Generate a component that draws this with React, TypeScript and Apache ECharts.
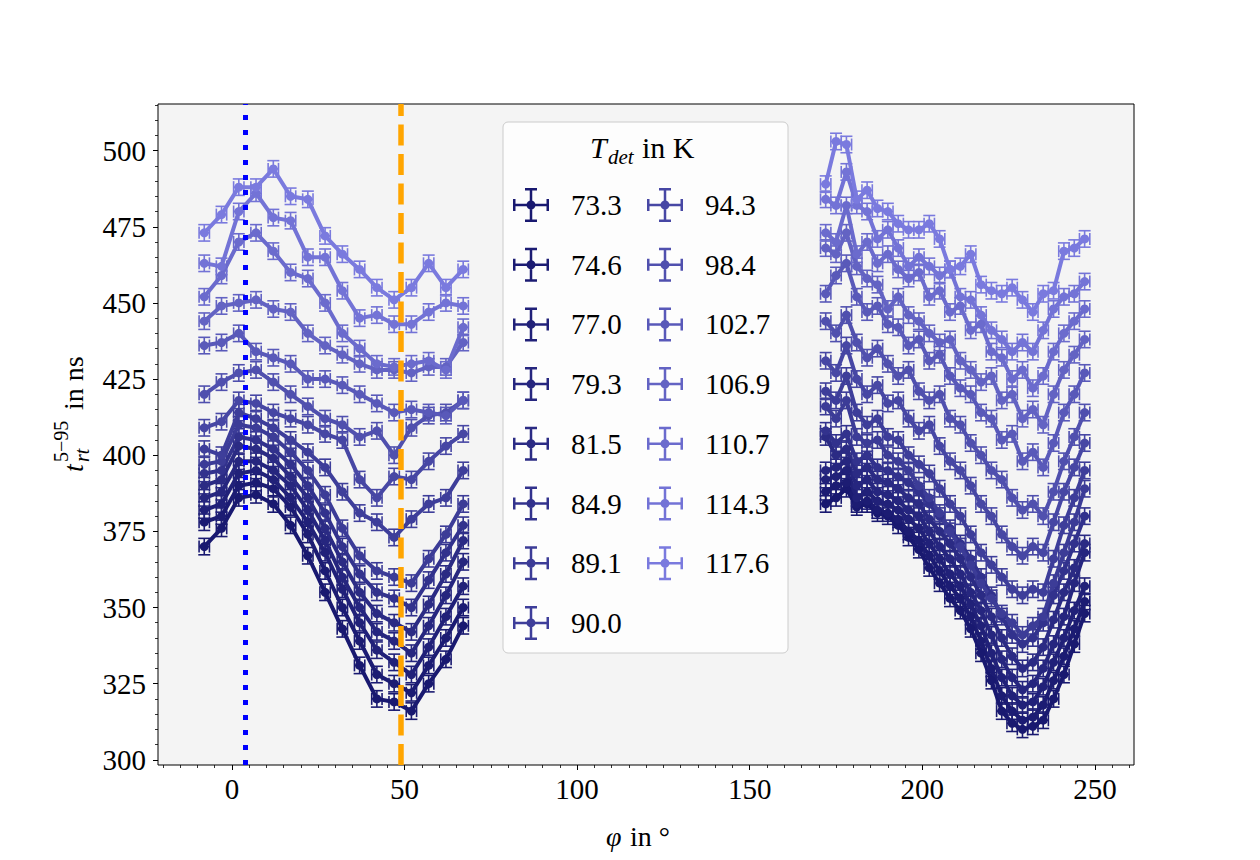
import React, { useEffect, useRef } from "react";
import * as echarts from "echarts";

const SERIF = "'Liberation Serif', 'Times New Roman', 'DejaVu Serif', serif";

// temperatures (legend) and colours
const TEMPS = ["73.3", "74.6", "77.0", "79.3", "81.5", "84.9", "89.1", "90.0", "94.3", "98.4", "102.7", "106.9", "110.7", "114.3", "117.6"];
const COLORS = ["#191970", "#1c1c73", "#212179", "#26267f", "#2b2b84", "#32328d", "#3c3c97", "#3e3e9a", "#4747a4", "#5050ae", "#5959b9", "#6363c3", "#6b6bcd", "#7373d6", "#7a7ade"];

// angles (degrees)
const PHI_LEFT = [-8, -3, 2, 7, 12, 17, 22, 27, 32, 37, 42, 47, 52, 57, 62, 67];
const PHI_RIGHT = [172, 175, 178, 181, 184, 187, 190, 193, 196, 199, 202, 205, 208, 211, 214, 217, 220, 223, 226, 229, 232, 235, 238, 241, 244, 247];

// rise times (ns), left segment
const L_73_3 = [370, 376, 386, 387, 384, 377, 367, 355, 343, 331, 320, 319, 316, 325, 333, 344];
const L_74_6 = [378, 380, 390, 391, 389, 383, 374, 362, 350, 339, 328, 325, 322, 331, 340, 350];
const L_77_0 = [382, 384, 394, 395, 392, 386, 378, 368, 356, 345, 336, 332, 328, 337, 347, 357];
const L_79_3 = [386, 388, 398, 398, 395, 390, 382, 372, 360, 350, 342, 339, 335, 344, 354, 365];
const L_81_5 = [390, 392, 403, 402, 399, 393, 386, 376, 365, 355, 348, 345, 342, 351, 361, 372];
const L_84_9 = [394, 395, 406, 405, 402, 397, 390, 381, 370, 361, 355, 353, 350, 359, 368, 377];
const L_89_1 = [397, 398, 410, 409, 406, 401, 395, 387, 376, 367, 362, 360, 358, 366, 374, 384];
const L_90_0 = [402, 400, 414, 412, 409, 405, 401, 396, 388, 381, 378, 373, 379, 384, 386, 395];
const L_94_3 = [409, 411, 418, 417, 414, 412, 410, 407, 405, 392, 386, 393, 392, 398, 403, 407];
const L_98_4 = [420, 424, 427, 428, 424, 420, 416, 412, 410, 406, 408, 400, 409, 413, 414, 418];
const L_102_7 = [436, 437, 440, 434, 432, 430, 425, 425, 423, 420, 417, 414, 415, 414, 413, 418];
const L_106_9 = [444, 449, 450, 451, 448, 447, 440, 436, 433, 430, 428, 428, 427, 429, 429, 437];
const L_110_7 = [452, 459, 470, 473, 467, 460, 458, 450, 440, 435, 430, 429, 430, 431, 428, 442];
const L_114_3 = [463, 462, 480, 486, 478, 477, 465, 465, 454, 445, 446, 443, 443, 447, 450, 449];
const L_117_6 = [473, 479, 488, 488, 494, 485, 484, 472, 466, 461, 455, 451, 455, 463, 455, 461];

// rise times (ns), right segment
const R_73_3 = [384, 386, 389, 383, 384, 381, 380, 377, 373, 369, 363, 358, 353, 349, 343, 335, 326, 316, 312, 310, 311, 313, 320, 328, 338, 348];
const R_74_6 = [388, 390, 391, 384, 385, 382, 381, 379, 375, 372, 367, 362, 357, 353, 347, 339, 330, 321, 316, 313, 314, 318, 326, 334, 343, 352];
const R_77_0 = [392, 393, 395, 386, 388, 385, 384, 382, 379, 376, 371, 366, 361, 357, 351, 344, 335, 327, 321, 318, 319, 324, 332, 340, 349, 357];
const R_79_3 = [395, 396, 398, 390, 392, 388, 387, 385, 382, 380, 375, 370, 366, 361, 355, 349, 341, 333, 327, 323, 325, 330, 338, 347, 358, 368];
const R_81_5 = [406, 400, 402, 394, 396, 392, 391, 389, 386, 384, 379, 375, 371, 366, 360, 354, 347, 340, 334, 330, 332, 337, 346, 355, 363, 371];
const R_84_9 = [408, 404, 407, 398, 400, 396, 395, 393, 391, 388, 384, 380, 376, 371, 366, 360, 354, 347, 341, 338, 340, 345, 354, 362, 371, 380];
const R_89_1 = [416, 412, 418, 406, 404, 405, 400, 398, 395, 390, 386, 381, 375, 370, 364, 358, 353, 348, 345, 341, 344, 347, 358, 368, 378, 389];
const R_90_0 = [421, 418, 426, 414, 410, 412, 406, 405, 400, 397, 394, 389, 384, 380, 374, 368, 364, 360, 356, 354, 356, 355, 366, 377, 386, 395];
const R_94_3 = [431, 427, 436, 425, 420, 423, 417, 418, 412, 408, 410, 403, 398, 395, 390, 384, 380, 374, 370, 367, 370, 368, 378, 388, 396, 404];
const R_98_4 = [444, 440, 446, 437, 432, 435, 430, 426, 428, 421, 418, 420, 412, 410, 404, 400, 395, 392, 386, 382, 384, 380, 388, 398, 406, 414];
const R_102_7 = [453, 459, 463, 452, 447, 449, 443, 442, 436, 438, 431, 433, 426, 422, 420, 414, 412, 405, 407, 398, 401, 396, 404, 414, 420, 427];
const R_106_9 = [468, 466, 473, 462, 458, 456, 448, 452, 446, 444, 440, 437, 438, 431, 428, 424, 426, 418, 420, 412, 415, 410, 420, 428, 433, 438];
const R_110_7 = [473, 470, 482, 466, 470, 463, 466, 461, 458, 460, 452, 454, 447, 449, 441, 443, 434, 432, 425, 428, 422, 426, 434, 440, 444, 448];
const R_114_3 = [484, 482, 493, 482, 480, 471, 474, 468, 462, 465, 462, 459, 461, 452, 451, 446, 441, 438, 434, 437, 434, 441, 448, 452, 453, 457];
const R_117_6 = [489, 503, 502, 484, 487, 481, 480, 476, 474, 474, 476, 471, 461, 462, 466, 456, 454, 453, 455, 451, 447, 453, 454, 467, 468, 471];

const LEFT = [L_73_3, L_74_6, L_77_0, L_79_3, L_81_5, L_84_9, L_89_1, L_90_0, L_94_3, L_98_4, L_102_7, L_106_9, L_110_7, L_114_3, L_117_6];
const RIGHT = [R_73_3, R_74_6, R_77_0, R_79_3, R_81_5, R_84_9, R_89_1, R_90_0, R_94_3, R_98_4, R_102_7, R_106_9, R_110_7, R_114_3, R_117_6];

// uncertainties
const X_ERR = 1.5;
const Y_ERR = 2.7;

// reference lines
const V_BLUE = 4;
const V_ORANGE = 49;

// axes
const X_MIN = -21.4;
const X_MAX = 261.3;
const Y_MIN = 298.3;
const Y_MAX = 515.3;
const X_MAJOR = [0, 50, 100, 150, 200, 250];
const Y_MAJOR = [300, 325, 350, 375, 400, 425, 450, 475, 500];
const X_MINOR = [-20, -15, -10, -5, 0, 5, 10, 15, 20, 25, 30, 35, 40, 45, 50, 55, 60, 65, 70, 75, 80, 85, 90, 95, 100, 105, 110, 115, 120, 125, 130, 135, 140, 145, 150, 155, 160, 165, 170, 175, 180, 185, 190, 195, 200, 205, 210, 215, 220, 225, 230, 235, 240, 245, 250, 255, 260];
const Y_MINOR = [300, 305, 310, 315, 320, 325, 330, 335, 340, 345, 350, 355, 360, 365, 370, 375, 380, 385, 390, 395, 400, 405, 410, 415, 420, 425, 430, 435, 440, 445, 450, 455, 460, 465, 470, 475, 480, 485, 490, 495, 500, 505, 510, 515];

const ICON =
  "path://M0 15.75 H36 V18.25 H0 Z M0 11 H2.5 V23 H0 Z M33.5 11 H36 V23 H33.5 Z " +
  "M16.75 0 H19.25 V34 H16.75 Z M12 0 H24 V2.5 H12 Z M12 31.5 H24 V34 H12 Z " +
  "M22.5 17 A4.5 4.5 0 1 1 13.5 17 A4.5 4.5 0 1 1 22.5 17 Z";

function txt(text: string, x: number, y: number, size: number, italic: boolean, align = "left") {
  return {
    type: "text",
    x,
    y,
    silent: true,
    z: 61,
    style: {
      text,
      fontSize: size,
      fontFamily: SERIF,
      fontStyle: italic ? "italic" : "normal",
      fill: "#000",
      align,
      verticalAlign: "middle",
    },
  };
}

function buildOption() {
  const series: any[] = [];
  TEMPS.forEach((t, i) => {
    const color = COLORS[i];
    const pts = [
      ...PHI_LEFT.map((x, j) => [x, LEFT[i][j]]),
      ...PHI_RIGHT.map((x, j) => [x, RIGHT[i][j]]),
    ];
    series.push({
      type: "custom",
      name: t,
      data: pts,
      silent: true,
      z: 2,
      itemStyle: { color },
      encode: { x: 0, y: 1 },
      renderItem: (params: any, api: any) => {
        const x = api.value(0);
        const y = api.value(1);
        const c = api.coord([x, y]);
        const top = api.coord([x, y + Y_ERR]);
        const bot = api.coord([x, y - Y_ERR]);
        const lf = api.coord([x - X_ERR, y]);
        const rt = api.coord([x + X_ERR, y]);
        const cap = 6;
        const st = { stroke: color, lineWidth: 1.6, fill: null };
        return {
          type: "group",
          children: [
            { type: "line", shape: { x1: c[0], y1: top[1], x2: c[0], y2: bot[1] }, style: st },
            { type: "line", shape: { x1: c[0] - cap, y1: top[1], x2: c[0] + cap, y2: top[1] }, style: st },
            { type: "line", shape: { x1: c[0] - cap, y1: bot[1], x2: c[0] + cap, y2: bot[1] }, style: st },
            { type: "line", shape: { x1: lf[0], y1: c[1], x2: rt[0], y2: c[1] }, style: st },
            { type: "line", shape: { x1: lf[0], y1: c[1] - cap, x2: lf[0], y2: c[1] + cap }, style: st },
            { type: "line", shape: { x1: rt[0], y1: c[1] - cap, x2: rt[0], y2: c[1] + cap }, style: st },
          ],
        };
      },
    });
    const segs: [number[], number[]][] = [
      [PHI_LEFT, LEFT[i]],
      [PHI_RIGHT, RIGHT[i]],
    ];
    segs.forEach(([xs, ys]) => {
      series.push({
        type: "line",
        name: t,
        data: xs.map((x, j) => [x, ys[j]]),
        symbol: "circle",
        symbolSize: 9,
        showSymbol: true,
        silent: true,
        z: 2,
        itemStyle: { color },
        lineStyle: { color, width: 4 },
        emphasis: { disabled: true },
      });
    });
  });
  series.push({
    type: "line",
    name: "refs",
    data: [],
    z: 10,
    silent: true,
    markLine: {
      silent: true,
      symbol: ["none", "none"],
      label: { show: false },
      animation: false,
      data: [
        { xAxis: V_BLUE, lineStyle: { color: "#0000ff", width: 5, type: [5, 10], cap: "butt" } },
        { xAxis: V_ORANGE, lineStyle: { color: "#ffa500", width: 5.5, type: [21, 8.5], cap: "butt" } },
      ],
    },
  });

  const legendCommon = {
    orient: "vertical",
    itemWidth: 36,
    itemHeight: 34,
    itemGap: 25.7,
    icon: ICON,
    padding: 0,
    z: 60,
    selectedMode: false,
    itemStyle: { borderWidth: 0 },
    textStyle: { fontSize: 29, fontFamily: SERIF, color: "#000", padding: [0, 0, 0, 17] },
  };

  const tickFont = { fontSize: 29, fontFamily: SERIF, color: "#000" };
  const noLine = { show: false, onZero: false };

  return {
    animation: false,
    backgroundColor: "#ffffff",
    grid: {
      left: 158,
      right: 126,
      top: 104,
      bottom: 95,
      show: true,
      backgroundColor: "#f4f4f4",
      borderColor: "#000000",
      borderWidth: 1,
    },
    xAxis: [
      {
        type: "value",
        min: X_MIN,
        max: X_MAX,
        position: "bottom",
        axisLine: noLine,
        splitLine: { show: false },
        axisTick: { show: true, customValues: X_MAJOR, length: 5, lineStyle: { color: "#000", width: 1 } },
        axisLabel: { customValues: X_MAJOR, margin: 9, ...tickFont },
      },
      {
        type: "value",
        min: X_MIN,
        max: X_MAX,
        position: "bottom",
        axisLine: noLine,
        splitLine: { show: false },
        axisTick: { show: true, customValues: X_MINOR, length: 3, lineStyle: { color: "#000", width: 0.8 } },
        axisLabel: { show: false },
      },
    ],
    yAxis: [
      {
        type: "value",
        min: Y_MIN,
        max: Y_MAX,
        position: "left",
        axisLine: noLine,
        splitLine: { show: false },
        axisTick: { show: true, customValues: Y_MAJOR, length: 5, lineStyle: { color: "#000", width: 1 } },
        axisLabel: { customValues: Y_MAJOR, margin: 12, ...tickFont },
      },
      {
        type: "value",
        min: Y_MIN,
        max: Y_MAX,
        position: "left",
        axisLine: noLine,
        splitLine: { show: false },
        axisTick: { show: true, customValues: Y_MINOR, length: 3, lineStyle: { color: "#000", width: 0.8 } },
        axisLabel: { show: false },
      },
    ],
    legend: [
      { ...legendCommon, data: TEMPS.slice(0, 8), left: 513, top: 188 },
      { ...legendCommon, data: TEMPS.slice(8), left: 647, top: 188 },
    ],
    graphic: [
      {
        type: "rect",
        z: 50,
        silent: true,
        shape: { x: 503, y: 122, width: 285, height: 531, r: 5 },
        style: { fill: "rgba(255,255,255,0.8)", stroke: "#cccccc", lineWidth: 1 },
      },
      txt("T", 590, 147, 30, true),
      txt("det", 608, 157, 21, true),
      txt("in K", 642, 147, 30, false),
      txt("φ", 606, 836, 28, true),
      txt("in °", 630, 836, 28, false),
      {
        type: "group",
        x: 73,
        y: 418,
        rotation: Math.PI / 2,
        silent: true,
        children: [
          txt("t", -54, 0, 28, true),
          txt("5−95", -44, -12, 20, false),
          txt("rt", -44, 9, 20, true),
          txt("in ns", 8, 0, 28, false),
        ],
      },
    ],
    series,
  };
}

export default function App() {
  const ref = useRef<HTMLDivElement>(null);
  useEffect(() => {
    if (!ref.current) return;
    const chart = echarts.init(ref.current, undefined, { renderer: "svg" });
    chart.setOption(buildOption() as any);
    return () => chart.dispose();
  }, []);
  return (
    <div
      ref={ref}
      style={{ position: "fixed", left: 0, top: 0, width: 1260, height: 860, background: "#ffffff" }}
    />
  );
}
